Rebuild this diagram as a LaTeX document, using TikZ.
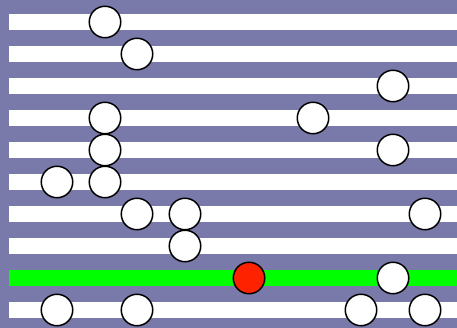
\documentclass[tikz,border=0pt]{standalone}
\usepackage{xcolor}
\definecolor{track}{HTML}{7A7AAA}
\definecolor{lane}{HTML}{00FF00}
\definecolor{token}{HTML}{FF2200}

\begin{document}
\begin{tikzpicture}[x=1pt,y=-1pt,
  ball/.style={circle,draw=black,line width=1.5pt,fill=white,minimum size=31.5pt,inner sep=0pt}]
\fill[track] (0,0) rectangle (457,328);
\foreach \k in {0,...,9} \fill[white] (9,14+32*\k) rectangle (457,30+32*\k);
\fill[lane] (9,270) rectangle (457,286);
% balls, row by row
\node[ball] (r1a) at (105,22) {};
\node[ball] (r2a) at (137,54) {};
\node[ball] (r3a) at (393,86) {};
\node[ball] (r4a) at (105,118) {};
\node[ball] (r4b) at (313,118) {};
\node[ball] (r5a) at (105,150) {};
\node[ball] (r5b) at (393,150) {};
\node[ball] (r6a) at (57,182) {};
\node[ball] (r6b) at (105,182) {};
\node[ball] (r7a) at (137,214) {};
\node[ball] (r7b) at (185,214) {};
\node[ball] (r7c) at (425,214) {};
\node[ball] (r8a) at (185,246) {};
\node[ball,fill=token] (r9a) at (249,278) {};
\node[ball] (r9b) at (393,278) {};
\node[ball] (r10a) at (57,310) {};
\node[ball] (r10b) at (137,310) {};
\node[ball] (r10c) at (361,310) {};
\node[ball] (r10d) at (425,310) {};
\end{tikzpicture}
\end{document}
